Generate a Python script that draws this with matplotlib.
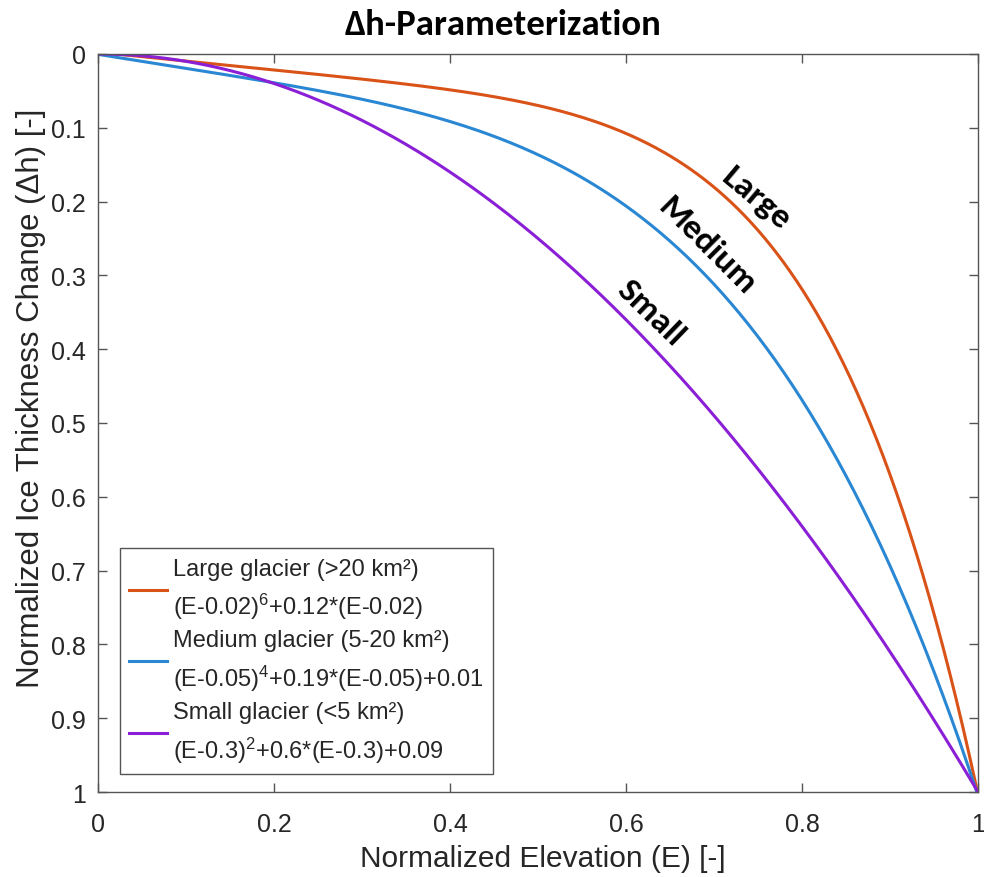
import numpy as np
import matplotlib.pyplot as plt
from matplotlib.ticker import FormatStrFormatter

# delta-h curves: dh = (E + a)^g + b*(E + a) + c  (coefficients as in the legend)
names = ['Large glacier (>20 km²)', 'Medium glacier (5-20 km²)', 'Small glacier (<5 km²)']
tags = ['Large', 'Medium', 'Small']
shift_a = [-0.02, -0.05, -0.3]
gamma = [6, 4, 2]
coef_b = [0.12, 0.19, 0.6]
coef_c = [0.0, 0.01, 0.09]
formulas = [r'(E-0.02)$^{6}$+0.12*(E-0.02)',
            r'(E-0.05)$^{4}$+0.19*(E-0.05)+0.01',
            r'(E-0.3)$^{2}$+0.6*(E-0.3)+0.09']
colors = ['#d95319', '#2a87d3', '#8a1fd6']

# where the curve names sit (data coords) and their angle
tag_x = [0.748, 0.692, 0.628]
tag_y = [0.194, 0.259, 0.350]
tag_rot = [-40, -45, -44]

x_ticks = [0, 0.2, 0.4, 0.6, 0.8, 1.0]
y_ticks = [0, 0.1, 0.2, 0.3, 0.4, 0.5, 0.6, 0.7, 0.8, 0.9, 1.0]

plt.rcParams['font.family'] = ['Liberation Sans', 'DejaVu Sans']
plt.rcParams['mathtext.default'] = 'regular'
axcol = '#555555'
txtcol = '#262626'

fig = plt.figure(figsize=(9.84, 8.78), dpi=100)
ax = fig.add_axes([0.0996, 0.0968, 0.8943, 0.8406])

E = np.linspace(0, 1, 400)
for i in range(3):
    u = E + shift_a[i]
    dh = u**gamma[i] + coef_b[i]*u + coef_c[i]
    ax.plot(E, dh, color=colors[i], lw=2.2, label=names[i] + '\n' + formulas[i])

ax.set_xlim(0, 1)
ax.set_ylim(1, 0)
ax.set_xticks(x_ticks)
ax.set_yticks(y_ticks)
ax.xaxis.set_major_formatter(FormatStrFormatter('%g'))
ax.yaxis.set_major_formatter(FormatStrFormatter('%g'))
ax.tick_params(direction='in', length=6.5, width=1.0, color=axcol,
               labelcolor=txtcol, top=True, right=True, labelsize=18)
ax.tick_params(axis='y', pad=8.5)
ax.tick_params(axis='x', pad=14.5)
for s in ax.spines.values():
    s.set_color(axcol)
    s.set_linewidth(1.0)

ax.set_xlabel('Normalized Elevation (E) [-]', fontsize=21.5, color=txtcol, labelpad=6)
ax.xaxis.label.set_x(0.506)
ax.set_ylabel('Normalized Ice Thickness Change (Δh) [-]', fontsize=22.5,
              color=txtcol, labelpad=4)
ax.yaxis.label.set_y(0.535)
fig.text(0.511, 1 - 35/878, 'Δh-Parameterization', fontsize=26.5, fontweight='bold',
         family=['Carlito', 'DejaVu Sans'], ha='center', va='baseline')

# curve names
for i in range(3):
    ax.text(tag_x[i], tag_y[i], tags[i], rotation=tag_rot[i], rotation_mode='anchor',
            fontsize=25.5, fontweight='bold', family=['Carlito', 'DejaVu Sans'],
            ha='center', va='center')

leg = ax.legend(loc='lower left', bbox_to_anchor=(0.025, 0.0244), borderaxespad=0,
                fontsize=17, fancybox=False, edgecolor=axcol, framealpha=1,
                handlelength=1.6, handletextpad=0.25, labelspacing=0.33,
                borderpad=0.4)
leg.get_frame().set_linewidth(1.0)
for t in leg.get_texts():
    t.set_linespacing(1.5)
    t.set_color(txtcol)

fig.savefig('out.png', dpi=100)
